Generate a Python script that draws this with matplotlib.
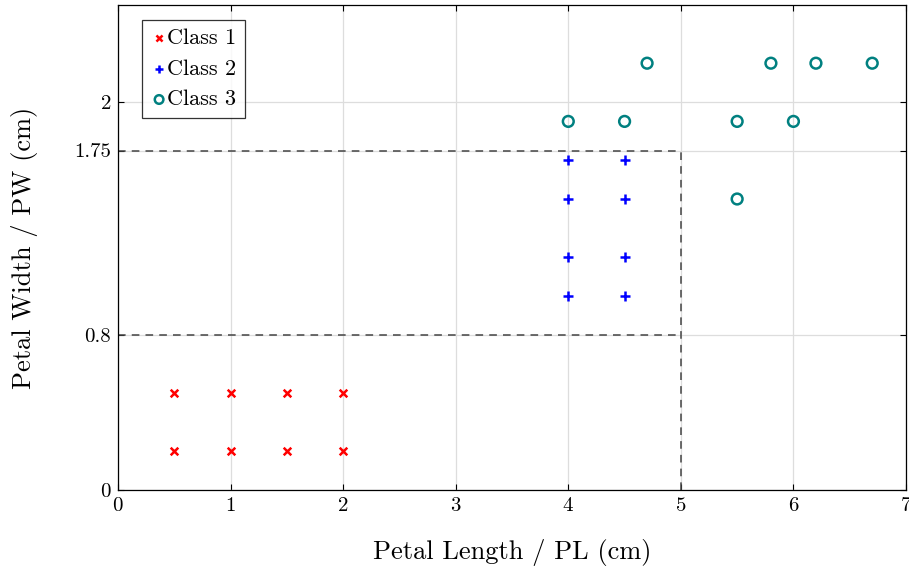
import matplotlib
matplotlib.use("Agg")
import matplotlib.pyplot as plt

plt.rcParams['font.family'] = 'serif'
plt.rcParams['font.serif'] = ['cmr10']
plt.rcParams['mathtext.fontset'] = 'cm'
plt.rcParams['axes.formatter.use_mathtext'] = True

# data
c1_x = [0.5, 1, 1.5, 2, 0.5, 1, 1.5, 2]
c1_y = [0.5, 0.5, 0.5, 0.5, 0.2, 0.2, 0.2, 0.2]
c2_x = [4, 4.5, 4, 4.5, 4, 4.5, 4, 4.5]
c2_y = [1.7, 1.7, 1.5, 1.5, 1.2, 1.2, 1.0, 1.0]
c3_x = [4.7, 5.8, 6.2, 6.7, 4, 4.5, 5.5, 6.0, 5.5]
c3_y = [2.2, 2.2, 2.2, 2.2, 1.9, 1.9, 1.9, 1.9, 1.5]

xticks = [0, 1, 2, 3, 4, 5, 6, 7]
yticks = [0, 0.8, 1.75, 2]
ytick_labels = ['0', '0.8', '1.75', '2']

fig = plt.figure(figsize=(9.09, 5.71), dpi=100)
ax = fig.add_axes([118/909, 81/571, 788/909, 485/571])

ax.scatter(c1_x, c1_y, marker='x', color='red', s=30, linewidths=1.8, label='Class 1', zorder=3)
ax.scatter(c2_x, c2_y, marker='+', color='blue', s=60, linewidths=1.8, label='Class 2', zorder=3)
ax.scatter(c3_x, c3_y, marker='o', facecolors='none', edgecolors='#008080', s=60, linewidths=1.8, label='Class 3', zorder=3)

# decision boundaries
dash_col = '#444444'
ax.plot([0, 5], [1.75, 1.75], ls=(0, (5, 4)), color=dash_col, lw=1.1, zorder=2)
ax.plot([0, 5], [0.8, 0.8], ls=(0, (5, 4)), color=dash_col, lw=1.1, zorder=2)
ax.plot([5, 5], [0, 1.75], ls=(0, (5, 4)), color=dash_col, lw=1.1, zorder=2)

ax.set_xlim(0, 7)
ax.set_ylim(0, 2.5)
ax.set_xticks(xticks)
ax.set_yticks(yticks)
ax.set_yticklabels(ytick_labels)
ax.grid(True, color='#dddddd', lw=0.9, zorder=0)
ax.set_axisbelow(True)
ax.tick_params(direction='in', top=True, right=True, labelsize=15, length=4, pad=5)
for s in ax.spines.values():
    s.set_linewidth(0.9)

ax.set_xlabel('Petal Length / PL (cm)', fontsize=19, labelpad=17)
ax.set_ylabel('Petal Width / PW (cm)', fontsize=19, labelpad=26)

leg = ax.legend(loc='upper left', bbox_to_anchor=(0.031, 0.97), fontsize=16, frameon=True,
                fancybox=False, edgecolor='black', handletextpad=0.0, handlelength=0.7,
                borderpad=0.4, labelspacing=0.5, borderaxespad=0, markerscale=0.8)
leg.get_frame().set_linewidth(0.9)

fig.savefig('out.png', dpi=100)
